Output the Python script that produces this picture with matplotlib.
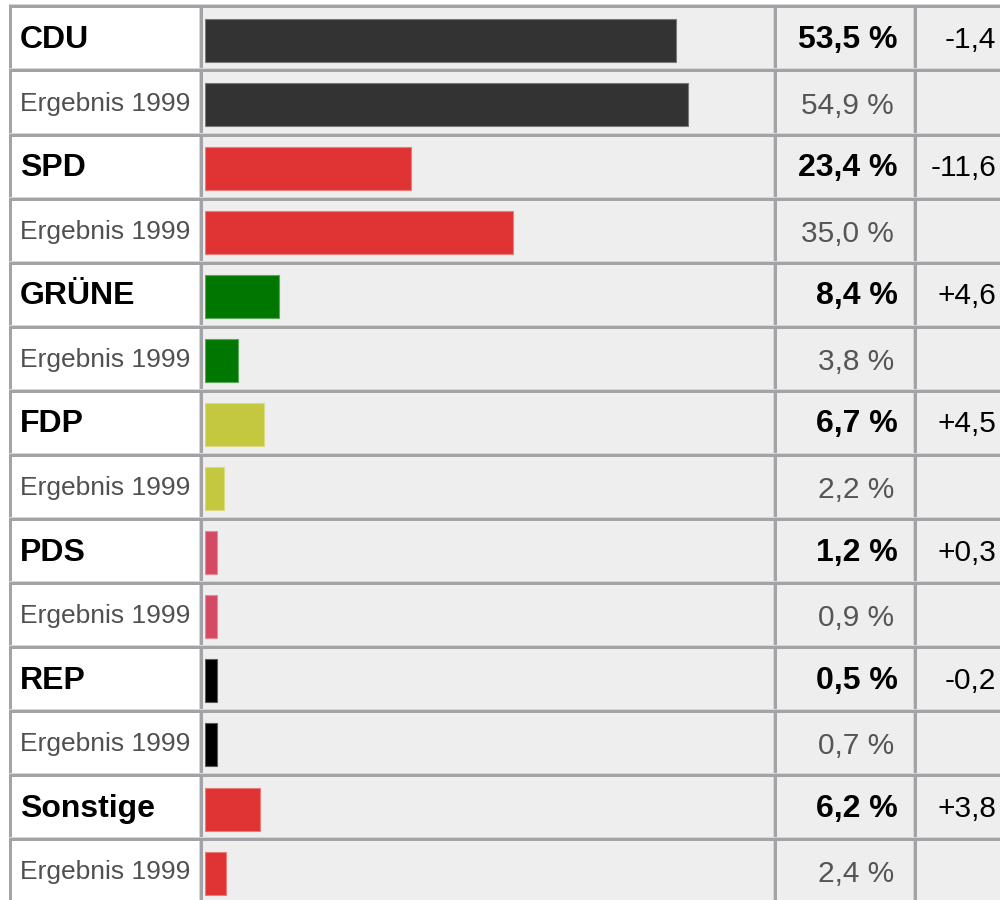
import numpy as np
import matplotlib.pyplot as plt
from matplotlib.patches import Rectangle
from matplotlib.colors import to_rgb

parties = ['CDU', 'SPD', 'GRÜNE', 'FDP', 'PDS', 'REP', 'Sonstige']
res_2004 = [53.5, 23.4, 8.4, 6.7, 1.2, 0.5, 6.2]
res_1999 = [54.9, 35.0, 3.8, 2.2, 0.9, 0.7, 2.4]
colors = ['#333333', '#e03333', '#007700', '#c3c83f', '#d44a63', '#000000', '#e03333']
prev_label = 'Ergebnis 1999'

W, H = 1000, 900
FONT = 'Liberation Sans'

# table layout in pixels
row_top = 4.4
row_h = 64.08
n_rows = 2 * len(parties)
col_x = [9, 200, 774, 914, 1010]
sep = 4
px_per_pct = 8.8
min_pct = 12 / px_per_pct   # tiny bars get a minimum width, like the html original

fig = plt.figure(figsize=(W / 100, H / 100), dpi=100)
ax = fig.add_axes([0, 0, 1, 1])
ax.set_xlim(0, W)
ax.set_ylim(H, 0)
ax.axis('off')

dark = '#a3a3a7'
light = '#d6d6d8'
# grid background (borders) then cells on top
ax.add_patch(Rectangle((col_x[0], row_top), W, H, fc=dark, ec='none', zorder=0))
for r in range(n_rows):
    y0 = row_top + r * row_h
    ax.add_patch(Rectangle((col_x[0], y0), W, 1, fc=light, ec='none', zorder=0.5))
    for c in range(4):
        x0 = col_x[c] + sep - 1
        x1 = col_x[c + 1]
        fc = 'white' if c == 0 else '#eeeeee'
        ax.add_patch(Rectangle((x0, y0 + sep), x1 - x0, row_h - sep,
                               fc=fc, ec='none', zorder=1))
        ax.add_patch(Rectangle((x1 - 1, y0 + sep), 1, row_h - sep,
                               fc=light, ec='none', zorder=1))

centers = row_top + sep + (row_h - sep) / 2 + np.arange(n_rows) * row_h

for i, p in enumerate(parties):
    yc = centers[2 * i]
    yp = centers[2 * i + 1]
    ax.text(20, yc + 1.5, p, fontsize=23, fontweight='bold', family=FONT,
            ha='left', va='center', zorder=3)
    ax.text(20, yp + 1, prev_label, fontsize=19, color='#505050', family=FONT,
            ha='left', va='center', zorder=3)
    ax.text(898, yc + 1.5, f"{res_2004[i]:.1f}".replace('.', ',') + ' %',
            fontsize=23, fontweight='bold', family=FONT,
            ha='right', va='center', zorder=3)
    ax.text(894, yp + 3, f"{res_1999[i]:.1f}".replace('.', ',') + ' %',
            fontsize=21.5, color='#555555', family=FONT,
            ha='right', va='center', zorder=3)
    d = res_2004[i] - res_1999[i]
    ax.text(996, yc + 1.5, f"{d:+.1f}".replace('.', ','), fontsize=21.5,
            family=FONT, ha='right', va='center', zorder=3)

# bars in their own axes, x in percent
bar_left = 205
bar_w = col_x[2] - bar_left
axb = fig.add_axes([bar_left / W, 0, bar_w / W, 1])
axb.set_xlim(0, bar_w / px_per_pct)
bar_mid = centers[0] + 1.6
top_i = (0 - bar_mid) / row_h
bot_i = (H - bar_mid) / row_h
axb.set_ylim(bot_i, top_i)
axb.axis('off')
axb.patch.set_alpha(0)

vals = []
cols = []
for i in range(len(parties)):
    vals += [res_2004[i], res_1999[i]]
    cols += [colors[i], colors[i]]
vals = np.maximum(np.array(vals), min_pct)
edges = [tuple(0.65 * np.array(to_rgb(c)) + 0.35) for c in cols]
axb.barh(np.arange(n_rows), vals, height=43 / row_h, left=0,
         color=cols, edgecolor=edges, linewidth=0.8)

fig.savefig('out.png', dpi=100)
